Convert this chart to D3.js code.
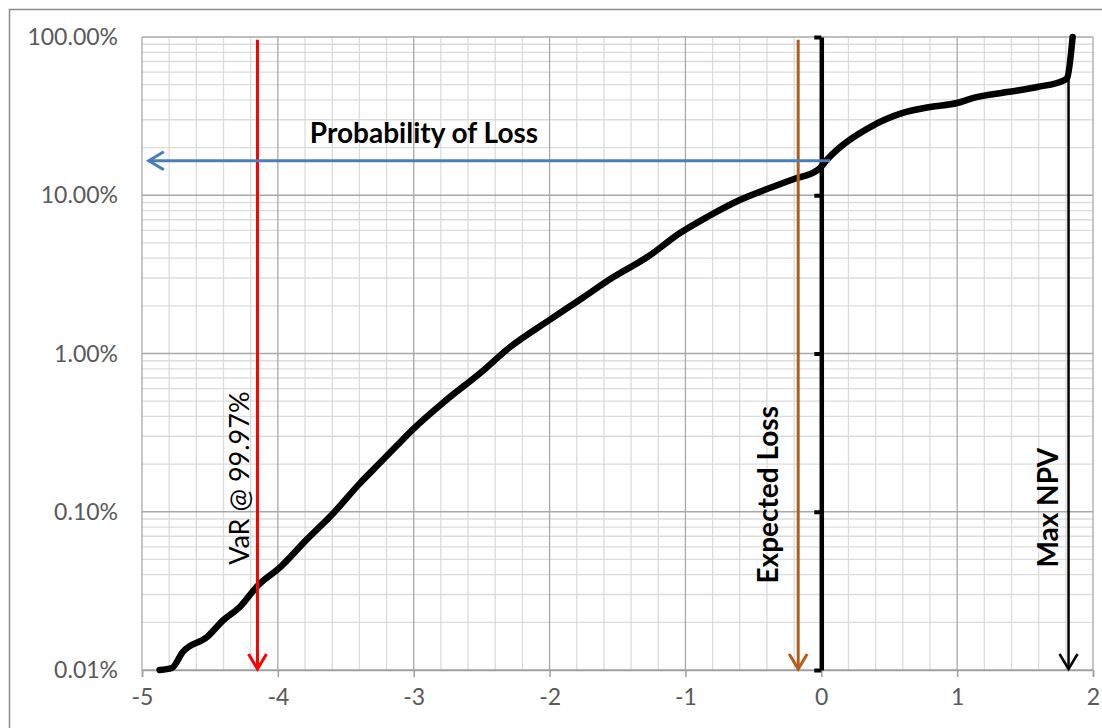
<!DOCTYPE html>
<html><head><meta charset="utf-8">
<script src="https://d3js.org/d3.v7.min.js"></script>
<style>body{margin:0;background:#fff}svg{display:block}</style>
</head><body>
<svg id="chart" width="1102" height="728"></svg>
<script>
// ---- data ----
const netValue = [-4.87,-4.78,-4.70,-4.52,-4.40,-4.28,-4.15,-3.98,-3.79,-3.59,-3.40,-3.25,-3.12,-3.00,-2.76,-2.51,-2.29,-2.00,-1.78,-1.53,-1.28,-1.04,-0.84,-0.60,-0.36,-0.18,-0.05,-0.01,0.04,0.14,0.36,0.60,0.80,1.00,1.12,1.37,1.59,1.79,1.81,1.85];
const cumProbPct = [0.0100,0.0103,0.0130,0.0162,0.0207,0.0250,0.0340,0.0448,0.0664,0.0982,0.150,0.203,0.264,0.335,0.508,0.753,1.10,1.63,2.18,3.04,4.07,5.77,7.29,9.33,11.27,12.85,14.03,14.86,16.71,20.18,26.98,33.11,36.14,38.28,41.21,44.87,48.31,53.46,55.08,100];
const xTickValues = [-5,-4,-3,-2,-1,0,1,2];
const xTickLabels = ["-5","-4","-3","-2","-1","0","1","2"];
const yTickValues = [0.0001,0.001,0.01,0.1,1];
const yTickLabels = ["0.01%","0.10%","1.00%","10.00%","100.00%"];
const varLabel = "VaR @ 99.97%", varX = -4.15;
const elLabel = "Expected Loss", elX = -0.17;
const npvLabel = "Max NPV", npvX = 1.82, npvTopPct = 54.5;
const probLabel = "Probability of Loss", probLossPct = 16.5, probFromX = 0.065, probToX = -4.95;
const arrowTopPct = 96;

// ---- chart ----
const svg = d3.select("#chart");
const x = d3.scaleLinear().domain([-5,2]).range([142,1093]);
const y = d3.scaleLog().domain([1e-4,1]).range([670,37]);
const font = "Lato, 'Open Sans', sans-serif";

svg.append("rect").attr("x",9.5).attr("y",9.5).attr("width",1200).attr("height",1000)
  .attr("fill","#fff").attr("stroke","#8c8c8c").attr("stroke-width",1.5);

const grid = svg.append("g");
const minorX = d3.range(-50,21,2).map(v=>v/10).filter(v=>Math.abs(v-Math.round(v))>1e-6);
grid.selectAll(".mx").data(minorX).join("line")
  .attr("x1",d=>x(d)).attr("x2",d=>x(d)).attr("y1",y(1)).attr("y2",y(1e-4))
  .attr("stroke","#dcdcdc").attr("stroke-width",1.3);
const minorY = [];
[1e-4,1e-3,1e-2,1e-1].forEach(b=>{for(let k=2;k<=9;k++) minorY.push(b*k);});
grid.selectAll(".my").data(minorY).join("line")
  .attr("x1",x(-5)).attr("x2",x(2)).attr("y1",d=>y(d)).attr("y2",d=>y(d))
  .attr("stroke","#dcdcdc").attr("stroke-width",1.3);
grid.selectAll(".Mx").data(xTickValues).join("line")
  .attr("x1",d=>x(d)).attr("x2",d=>x(d)).attr("y1",y(1)).attr("y2",y(1e-4))
  .attr("stroke","#a8a8a8").attr("stroke-width",1.3);
grid.selectAll(".My").data(yTickValues).join("line")
  .attr("x1",x(-5)).attr("x2",x(2)).attr("y1",d=>y(d)).attr("y2",d=>y(d))
  .attr("stroke","#a8a8a8").attr("stroke-width",1.3);

const xAxis = svg.append("g").attr("transform",`translate(0,${y(1e-4)})`)
  .call(d3.axisBottom(x).tickValues(xTickValues).tickFormat((d,i)=>xTickLabels[i]).tickSize(7).tickPadding(12));
xAxis.select(".domain").attr("stroke","#a0a0a0").attr("stroke-width",1.5);
xAxis.selectAll(".tick line").attr("stroke","#a0a0a0").attr("stroke-width",1.5);
xAxis.selectAll("text").attr("fill","#595959").style("font-family",font).style("font-size","23px");

svg.append("g").selectAll("text").data(yTickValues).join("text")
  .attr("x",118).attr("y",d=>y(d)).attr("dy","0.35em").attr("text-anchor","end")
  .attr("fill","#595959").style("font-family",font).style("font-size","23px")
  .text((d,i)=>yTickLabels[i]);

const line = d3.line().x(d=>x(d[0])).y(d=>y(d[1]/100)).curve(d3.curveMonotoneX);
svg.append("path").datum(netValue.map((v,i)=>[v,cumProbPct[i]]))
  .attr("d",line).attr("fill","none").attr("stroke","#000").attr("stroke-width",6.5)
  .attr("stroke-linejoin","round").attr("stroke-linecap","round");

const yAxis = svg.append("g").attr("transform",`translate(${x(0)},0)`)
  .call(d3.axisLeft(y).tickValues(yTickValues).tickFormat("").tickSize(7).tickSizeOuter(0));
yAxis.select(".domain").attr("stroke","#000").attr("stroke-width",4.5);
yAxis.selectAll(".tick line").attr("stroke","#000").attr("stroke-width",4);

function arrowHead(g, tx, ty, dir, color, w){
  const L=15, H=9;
  let pts;
  if(dir==="down") pts=[[tx-H,ty-L],[tx,ty],[tx+H,ty-L]];
  else pts=[[tx+L,ty-H],[tx,ty],[tx+L,ty+H]];
  g.append("path").attr("d",d3.line()(pts)).attr("fill","none").attr("stroke",color)
   .attr("stroke-width",w).attr("stroke-linejoin","miter").attr("stroke-linecap","butt");
}
const ann = svg.append("g");
ann.append("line").attr("x1",x(varX)).attr("x2",x(varX)).attr("y1",y(arrowTopPct/100)).attr("y2",y(1e-4)-1)
  .attr("stroke","#ff0000").attr("stroke-width",3);
arrowHead(ann,x(varX),y(1e-4)-1,"down","#ff0000",3);
ann.append("line").attr("x1",x(elX)).attr("x2",x(elX)).attr("y1",y(arrowTopPct/100)).attr("y2",y(1e-4)-1)
  .attr("stroke","#b35c1e").attr("stroke-width",3);
arrowHead(ann,x(elX),y(1e-4)-1,"down","#b35c1e",3);
ann.append("line").attr("x1",x(npvX)).attr("x2",x(npvX)).attr("y1",y(npvTopPct/100)).attr("y2",y(1e-4)-1)
  .attr("stroke","#000").attr("stroke-width",2.5);
arrowHead(ann,x(npvX),y(1e-4)-1,"down","#000",2.5);
ann.append("line").attr("x1",x(probFromX)).attr("x2",x(probToX)).attr("y1",y(probLossPct/100)).attr("y2",y(probLossPct/100))
  .attr("stroke","#4a7ebb").attr("stroke-width",3);
arrowHead(ann,x(probToX),y(probLossPct/100),"left","#4a7ebb",3);

ann.append("text").attr("x",424).attr("y",y(0.215)).attr("text-anchor","middle")
  .style("font-family",font).style("font-size","28px").style("font-weight","bold").attr("fill","#000").text(probLabel);
function vtext(px,py,txt,weight,size){
  ann.append("text").attr("transform",`translate(${px},${py}) rotate(-90)`).attr("text-anchor","middle")
    .attr("dy","0.35em").style("font-family",font).style("font-size",size+"px").style("font-weight",weight)
    .attr("fill","#000").text(txt);
}
vtext(x(varX)-18, y(0.00163), varLabel, "normal", 27);
vtext(x(elX)-30, y(0.00128), elLabel, "bold", 28);
vtext(x(npvX)-20, y(0.00106), npvLabel, "bold", 28);
</script>
</body></html>
